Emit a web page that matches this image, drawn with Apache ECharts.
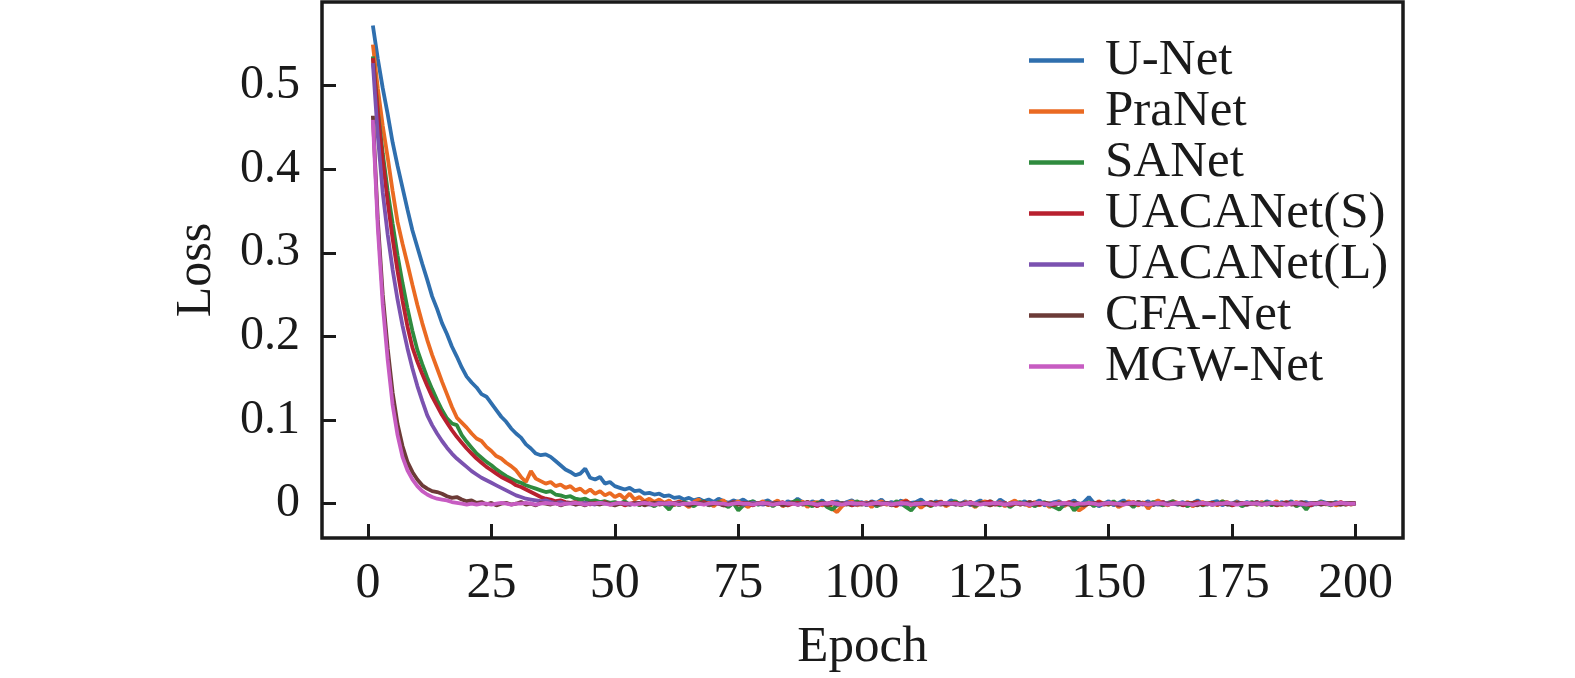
<!DOCTYPE html>
<html>
<head>
<meta charset="utf-8">
<script src="https://cdn.jsdelivr.net/npm/echarts@6/dist/echarts.min.js"></script>
<style>
  html, body { margin: 0; padding: 0; background: #fff; }
  #loss_chart { width: 1575px; height: 678px; }
</style>
</head>
<body>
<div id="loss_chart"></div>
<script>
// training loss per epoch (epoch 1..200)
var seriesNames = ['U-Net', 'PraNet', 'SANet', 'UACANet(S)', 'UACANet(L)', 'CFA-Net', 'MGW-Net'];
var seriesColors = ['#2f6fae', '#ea6a22', '#2f8b3e', '#b8202f', '#7b52b0', '#6c3b37', '#c75cc2'];
var xTicks = [0, 25, 50, 75, 100, 125, 150, 175, 200];
var yTicks = [0, 0.1, 0.2, 0.3, 0.4, 0.5];

var lossUNet = [
  .572,.532,.497,.466,.432,.404,.378,.352,.327,.307,.287,.268,.248,.233,.216,.203,.188,.176,.163,.152,
  .145,.139,.131,.128,.120,.112,.104,.098,.090,.084,.079,.071,.066,.060,.058,.059,.056,.051,.046,.041,
  .038,.034,.036,.042,.031,.029,.032,.024,.026,.021,.019,.017,.019,.015,.016,.012,.013,.011,.012,.009,
  .010,.007,.008,.005,.007,.004,.006,.003,.005,.002,.006,.003,.001,.004,.002,.005,.001,.003,-.001,.002,
  .004,.000,.002,-.002,.003,.001,.006,.002,-.001,.003,.000,.004,-.002,.001,.003,-.001,.002,.004,.000,.002,
  -.002,.003,.001,.005,-.001,.002,.000,.004,-.003,.001,.002,.005,.000,-.002,.003,.001,-.001,.004,.002,.000,
  .003,-.002,.001,.004,.000,.002,-.001,.005,.001,-.002,.002,.000,.003,-.001,.001,.004,-.002,.000,.002,.003,
  -.001,.001,.004,-.002,.002,.008,.001,-.003,.000,.003,-.002,.001,.004,.000,-.001,.002,.000,.003,-.002,.001,
  .002,-.001,.003,.000,.002,-.002,.001,.004,.000,-.001,.002,.003,-.002,.001,.000,.003,-.001,.002,.000,.002,
  -.001,.003,.001,-.002,.002,.000,.003,-.001,.001,.002,-.002,.000,.003,.001,-.001,.002,.000,.001,-.001,.001
];
var lossPraNet = [
  .549,.497,.452,.414,.374,.337,.311,.287,.262,.238,.216,.196,.178,.162,.146,.131,.116,.103,.097,.091,
  .084,.078,.075,.068,.063,.057,.054,.049,.045,.040,.032,.026,.039,.030,.027,.024,.026,.021,.023,.019,
  .021,.016,.018,.013,.017,.012,.015,.010,.013,.008,.011,.006,.012,.005,.008,.003,.006,.002,.005,.001,
  .004,-.002,.003,.000,-.004,.002,.005,-.001,.001,-.003,.002,.004,-.002,.000,.003,-.001,-.004,.002,.000,.003,
  -.002,.001,.004,-.003,.000,.002,-.001,.003,-.004,.001,.002,-.002,.000,-.006,-.010,-.003,.001,.003,-.002,.000,
  .002,-.004,.001,.003,-.001,.000,-.003,.002,.004,-.002,.001,-.005,.000,.002,-.001,.003,-.003,.000,.001,-.002,
  .002,.000,-.004,.001,.003,-.002,.000,.002,-.003,.001,.004,-.001,.000,-.003,.002,-.002,.001,-.004,.000,.002,
  -.003,.001,-.005,-.008,-.004,.001,-.002,.003,.000,-.001,.002,-.004,-.001,.003,.000,-.002,.002,-.006,.001,.004,
  .000,-.002,.003,.001,-.001,.002,-.003,.000,.002,-.001,.001,-.002,.003,.000,-.001,.002,-.002,.001,.000,-.001,
  .002,-.001,.000,.003,-.002,.001,-.001,.002,.000,-.002,.001,.000,.002,-.001,.001,-.002,.000,.001,-.001,.000
];
var lossSANet = [
  .535,.470,.419,.374,.335,.297,.264,.234,.207,.184,.167,.151,.137,.124,.112,.102,.096,.094,.082,.074,
  .067,.060,.055,.050,.046,.041,.037,.033,.030,.027,.025,.022,.020,.018,.016,.014,.015,.011,.010,.008,
  .009,.006,.005,.006,.003,.004,.002,.003,.001,.002,.000,.003,-.001,.001,-.002,.002,.000,-.003,.001,-.001,
  -.007,.001,-.002,.002,.000,-.003,.001,.003,-.002,.000,.002,-.001,-.004,.001,-.008,-.002,.001,.003,-.001,.000,
  .002,-.003,.001,.000,-.002,.002,.004,-.001,.000,-.003,.001,.002,-.004,-.007,-.002,.001,.000,-.002,.003,.000,
  -.001,.002,-.003,.000,.001,-.002,.003,.000,-.004,-.008,-.001,.002,.000,-.003,.001,.002,-.001,.000,.003,-.002,
  .000,.002,-.003,.001,-.001,.003,.000,-.002,.001,-.004,.000,.002,-.001,.001,-.003,.000,.002,-.002,-.004,-.007,
  -.001,.001,-.008,-.002,.000,.002,-.003,.001,.000,-.001,.003,-.002,.000,.001,-.004,.002,.000,-.001,.002,.000,
  -.002,.001,.003,-.001,.000,-.003,.001,.002,-.002,.000,.001,-.001,.003,.000,-.002,.001,-.003,.000,.002,-.001,
  .000,.002,-.002,.001,-.001,.000,.002,-.003,.000,-.007,.001,-.001,.002,.000,-.002,.001,.000,-.001,.001,.000
];
var lossUACANetS = [
  .533,.468,.411,.361,.317,.278,.243,.212,.187,.170,.155,.141,.128,.117,.106,.097,.088,.080,.073,.066,
  .060,.054,.049,.044,.040,.036,.032,.029,.026,.022,.020,.017,.014,.011,.008,.006,.005,.003,.004,.002,
  .001,.002,.000,.001,-.001,.001,.000,.002,-.001,.000,.001,-.002,.000,.001,-.001,.002,.000,-.001,.001,.000,
  -.001,.001,.002,.000,-.002,.001,.000,.002,-.001,.000,.001,-.002,.000,.002,-.001,.001,.000,-.002,.001,.000,
  .001,-.001,.000,.002,-.002,.000,.001,-.001,.002,.000,-.003,.001,.000,.002,-.001,.000,.001,-.002,.000,.001,
  -.001,.002,.000,-.001,.001,.000,-.002,.001,.003,.000,-.001,.001,.000,-.002,.001,.002,-.001,.000,.001,-.001,
  .000,.002,-.001,.000,.001,.003,-.001,.000,.001,-.002,.000,.001,-.001,.002,.000,-.001,.001,.000,-.002,.001,
  .000,.002,-.001,.000,-.002,.001,.000,.002,-.001,.000,.001,-.002,.001,.000,.002,-.001,.000,.001,-.001,.000,
  .002,-.001,.000,.001,-.002,.000,.001,.002,-.001,.000,.001,-.001,.000,.002,-.002,.000,.001,-.001,.000,.002,
  -.001,.000,.001,-.002,.000,.002,.000,-.001,.001,.000,-.002,.001,.000,.001,-.001,.000,.002,-.001,.000,.001
];
var lossUACANetL = [
  .527,.440,.372,.322,.280,.244,.213,.186,.162,.141,.123,.106,.094,.084,.075,.067,.060,.054,.049,.044,
  .039,.035,.031,.028,.025,.022,.019,.016,.013,.010,.008,.006,.005,.004,.003,.004,.002,.001,.002,.000,
  .001,-.001,.000,.001,.000,-.001,.001,.000,.000,-.001,.001,.000,-.001,.000,.001,.000,-.001,.000,.001,.000,
  -.001,.000,.001,.000,-.001,.001,.000,.000,-.001,.001,.000,-.001,.000,.001,.000,-.001,.000,.001,.000,-.001,
  .000,.001,.000,-.001,.000,.001,-.001,.000,.001,.000,-.001,.000,.000,.001,-.001,.000,.001,.000,-.001,.000,
  .001,.000,-.001,.000,.001,.000,.000,-.001,.001,.000,-.001,.000,.001,.000,-.001,.001,.000,.000,-.001,.000,
  .001,-.001,.000,.001,.000,-.001,.000,.001,.000,-.001,.001,.000,.000,-.001,.000,.001,-.001,.000,.001,.000,
  -.001,.000,.001,.000,-.001,.000,.001,-.001,.000,.001,.000,-.001,.000,.001,.000,.000,-.001,.001,.000,-.001,
  .000,.001,.000,-.001,.001,.000,-.001,.000,.001,.000,-.001,.000,.001,-.001,.000,.001,.000,-.001,.000,.001,
  .000,-.001,.001,.000,.000,-.001,.001,.000,-.001,.000,.001,.000,-.001,.001,.000,.000,-.001,.001,.000,.000
];
var lossCFANet = [
  .464,.340,.250,.186,.133,.095,.069,.050,.038,.029,.022,.018,.015,.014,.012,.009,.007,.008,.005,.003,
  .004,.001,.002,-.001,.001,-.002,.000,.001,-.001,.000,.002,-.001,.000,-.002,.001,.000,-.001,.001,-.002,.000,
  .001,-.001,.000,-.002,.001,.000,-.001,.001,.000,-.002,.000,.001,-.001,.000,.001,-.002,.000,.001,-.001,.000,
  .001,-.001,.000,.001,-.002,.000,.001,.000,-.001,.001,.000,-.002,.000,.001,-.001,.000,.001,-.001,.000,.001,
  -.001,.000,.001,-.002,.000,.001,-.001,.000,.002,-.001,.000,.001,-.002,.000,.001,.000,-.001,.001,.000,-.001,
  .000,.001,-.001,.000,.001,-.002,.000,.001,.000,-.001,.001,.000,-.001,.002,.000,-.001,.000,.001,-.001,.000,
  .001,.000,-.001,.001,.000,-.002,.001,.000,-.001,.000,.001,-.001,.000,.002,-.001,.000,.001,.000,-.001,.001,
  .000,-.001,.001,.000,-.002,.000,.001,-.001,.000,.001,.000,-.001,.001,.000,-.001,.002,.000,-.001,.000,.001,
  -.001,.000,.001,.000,-.001,.001,.000,-.002,.001,.000,-.001,.000,.001,-.001,.000,.001,.000,-.001,.001,.000,
  -.001,.001,.000,-.001,.000,.001,-.001,.000,.002,-.001,.000,.001,-.001,.000,.001,.000,-.001,.000,.001,.000
];
var lossMGWNet = [
  .459,.330,.238,.172,.118,.082,.056,.040,.029,.021,.015,.011,.008,.006,.005,.004,.002,.001,.000,-.001,
  .000,-.001,.000,.000,-.001,.000,.001,.000,-.001,.000,.000,.001,.000,-.001,.000,.001,.000,.000,-.001,.000,
  .000,.001,.000,-.001,.000,.000,.001,.000,-.001,.000,.001,.000,.000,-.001,.000,.001,.000,-.001,.000,.000,
  .001,.000,-.001,.000,.000,.001,.000,-.001,.000,.001,.000,.000,-.001,.000,.001,.000,.000,-.001,.000,.001,
  .000,-.001,.000,.001,.000,.000,-.001,.000,.001,.000,-.001,.000,.000,.001,.000,-.001,.000,.001,.000,.000,
  -.001,.000,.001,.000,.000,-.001,.000,.001,.000,-.001,.000,.000,.001,.000,-.001,.000,.001,.000,.000,-.001,
  .000,.001,.000,-.001,.000,.000,.001,.000,-.001,.000,.001,.000,.000,-.001,.000,.001,.000,-.001,.000,.000,
  .001,.000,-.001,.000,.000,.001,.000,-.001,.000,.001,.000,.000,-.001,.000,.001,.000,.000,-.001,.000,.001,
  .000,-.001,.000,.001,.000,.000,-.001,.000,.001,.000,-.001,.000,.000,.001,.000,-.001,.000,.001,.000,.000,
  -.001,.000,.001,.000,.000,-.001,.000,.001,.000,-.001,.000,.000,.001,.000,-.001,.000,.001,.000,.000,.000
];

var allLoss = [lossUNet, lossPraNet, lossSANet, lossUACANetS, lossUACANetL, lossCFANet, lossMGWNet];

var fontFamily = '"Liberation Serif", "Times New Roman", serif';
var inkColor = '#1a1a1a';

var myChart = echarts.init(document.getElementById('loss_chart'));

var series = seriesNames.map(function (name, k) {
    return {
        name: name,
        type: 'line',
        symbol: 'none',
        color: seriesColors[k],
        lineStyle: { width: 3.8 },
        data: allLoss[k].map(function (v, i) { return [i + 1, v]; })
    };
});

var option = {
    animation: false,
    backgroundColor: '#fff',
    grid: {
        left: 322,
        right: 172,
        top: 2,
        bottom: 140,
        show: true,
        borderColor: inkColor,
        borderWidth: 3.5
    },
    legend: {
        orient: 'vertical',
        left: 1024,
        top: 30,
        icon: 'rect',
        itemWidth: 55,
        itemHeight: 4.5,
        itemGap: 0,
        data: seriesNames,
        textStyle: {
            fontFamily: fontFamily,
            fontSize: 51,
            lineHeight: 50,
            color: inkColor,
            padding: [0, 0, 0, 16]
        }
    },
    xAxis: {
        type: 'value',
        min: -9.3,
        max: 209.6,
        name: 'Epoch',
        nameLocation: 'middle',
        nameGap: 84,
        nameTextStyle: { fontFamily: fontFamily, fontSize: 51, color: inkColor },
        axisLine: { show: false, onZero: false },
        splitLine: { show: false },
        axisTick: {
            inside: true,
            length: 14,
            customValues: xTicks,
            lineStyle: { color: inkColor, width: 3 }
        },
        axisLabel: {
            customValues: xTicks,
            margin: 21,
            fontFamily: fontFamily,
            fontSize: 50,
            color: inkColor
        }
    },
    yAxis: {
        type: 'value',
        min: -0.041,
        max: 0.6,
        name: 'Loss',
        nameLocation: 'middle',
        nameRotate: 90,
        nameGap: 100,
        nameTextStyle: { fontFamily: fontFamily, fontSize: 50, color: inkColor },
        axisLine: { show: false, onZero: false },
        splitLine: { show: false },
        axisTick: {
            inside: true,
            length: 14,
            customValues: yTicks,
            lineStyle: { color: inkColor, width: 3 }
        },
        axisLabel: {
            customValues: yTicks,
            margin: 22,
            fontFamily: fontFamily,
            fontSize: 48,
            color: inkColor,
            formatter: function (v) { return v === 0 ? '0' : v.toFixed(1); }
        }
    },
    series: series
};

myChart.setOption(option);
</script>
</body>
</html>
